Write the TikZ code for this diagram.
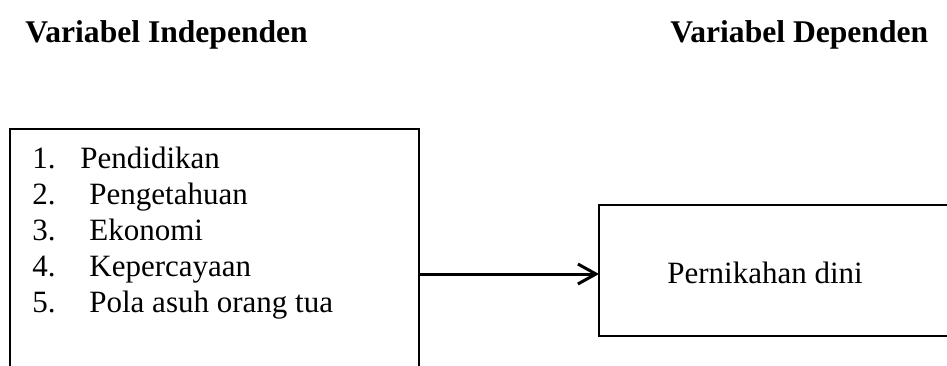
\documentclass[tikz,border=0pt]{standalone}
\usepackage{fontspec}
\setmainfont{Liberation Serif}
\usetikzlibrary{arrows.meta}
\begin{document}
\begin{tikzpicture}[x=0.5pt,y=-0.5pt,
  boxstyle/.style={draw=black, line width=0.9pt, inner sep=0pt, outer sep=0pt},
  headstyle/.style={font=\fontsize{15.8}{19}\selectfont\bfseries, inner sep=0pt, anchor=base west},
  bodystyle/.style={font=\fontsize{15.5}{18}\selectfont, inner sep=0pt, anchor=base west},
  conn/.style={line width=1.5pt, -{Straight Barb[length=9pt,width=10pt,line width=1.5pt]}}]
\useasboundingbox (0,0) rectangle (947,365);
\clip (0,0) rectangle (947,365);
\node[headstyle] (h1) at (25,42) {Variabel Independen};
\node[headstyle] (h2) at (670,42) {Variabel Dependen};
\node[boxstyle, minimum width=204.5pt, minimum height=145pt, anchor=north west] (indep) at (10,129) {};
\node[boxstyle, minimum width=200pt, minimum height=65.5pt, anchor=north west] (dep) at (599,205) {};
\node[bodystyle] (items) at (32,168) {\begin{tabular}[t]{@{}l@{}}
\makebox[24pt][l]{1.}Pendidikan\\
\makebox[28.5pt][l]{2.}Pengetahuan\\
\makebox[28.5pt][l]{3.}Ekonomi\\
\makebox[28.5pt][l]{4.}Kepercayaan\\
\makebox[28.5pt][l]{5.}Pola asuh orang tua
\end{tabular}};
\node[bodystyle] (deptext) at (667,283) {Pernikahan dini};
\draw[conn] (indep.east) -- (indep.east -| dep.west);
\end{tikzpicture}
\end{document}
